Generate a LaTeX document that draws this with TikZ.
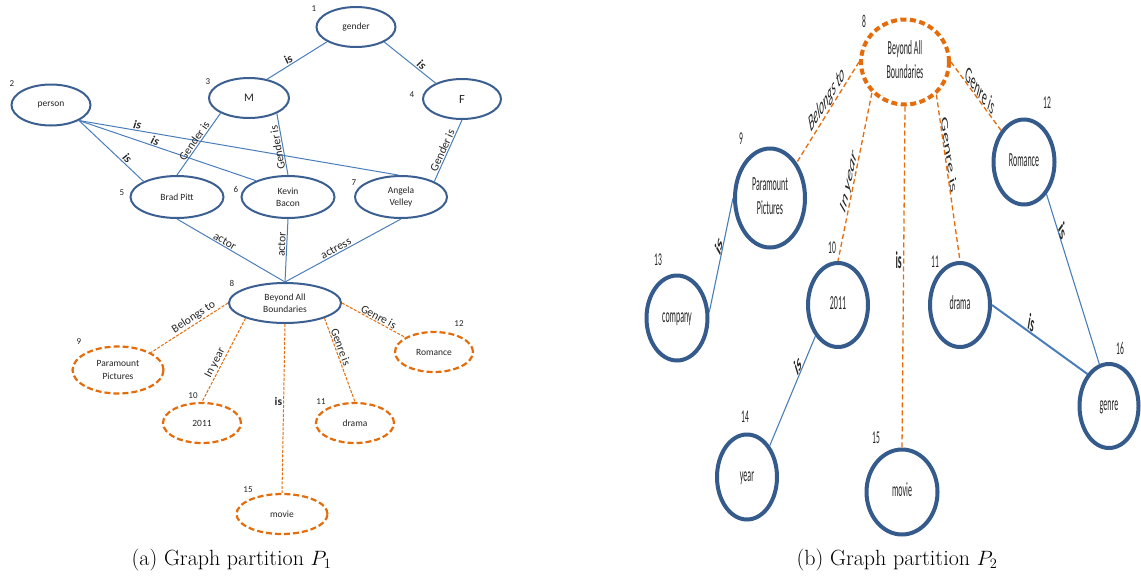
\documentclass[tikz,border=0pt]{standalone}
\usepackage{fontspec}
\usepackage{graphicx}
\usetikzlibrary{shapes.geometric}
\newfontfamily\carlito{Carlito}
\definecolor{nodeblue}{HTML}{3B5F91}
\definecolor{rblue}{HTML}{355A8C}
\definecolor{edgeblue}{HTML}{4A7EBB}
\definecolor{orng}{HTML}{E46C0A}
\definecolor{txt}{HTML}{262626}
% condensed two-line text for the right-hand partition
\newcommand\sq[1]{\scalebox{0.4}[1]{\begin{tabular}{@{}c@{}}#1\end{tabular}}}
\tikzset{
  lnode/.style={ellipse, draw=nodeblue, line width=2pt, inner sep=0pt, text=txt,
    align=center, font=\carlito\fontsize{9.5}{12.3}\selectfont},
  lorange/.style={lnode, draw=orng, line width=2.2pt, dash pattern=on 6pt off 3pt},
  rnode/.style={ellipse, draw=rblue, line width=4pt, inner sep=0pt, text=txt,
    font=\carlito\fontsize{20}{24}\selectfont},
  rorange/.style={rnode, draw=orng, dash pattern=on 6pt off 3.5pt},
  lnum/.style={inner sep=0pt, text=txt, font=\carlito\fontsize{9}{10}\selectfont},
  rnum/.style={inner sep=0pt, text=txt, xscale=0.42, font=\carlito\fontsize{18}{20}\selectfont},
  ledge/.style={draw=edgeblue, line width=1pt},
  lodash/.style={draw=orng, line width=1pt, dash pattern=on 3pt off 1.5pt},
  redge/.style={draw=edgeblue, line width=1.1pt},
  rodash/.style={draw=orng, line width=1.3pt, dash pattern=on 5pt off 3pt},
  lfont/.style={inner sep=1pt, text=txt, font=\carlito\fontsize{11.5}{13}\selectfont},
  llab/.style={lfont, sloped, above},
  lis/.style={llab, font=\carlito\bfseries\itshape\fontsize{12}{13}\selectfont},
  lbold/.style={lfont, font=\carlito\bfseries\fontsize{11.5}{13}\selectfont},
  rlab/.style={inner sep=1pt, text=txt, anchor=south, xscale=0.4,
    font=\carlito\itshape\fontsize{24}{26}\selectfont},
  ris/.style={rlab, font=\carlito\bfseries\itshape\fontsize{24}{26}\selectfont},
  rbold/.style={inner sep=4pt, text=txt, xscale=0.4, font=\carlito\bfseries\fontsize{24}{26}\selectfont},
  capt/.style={inner sep=0pt, anchor=base, font=\fontsize{22}{26}\selectfont},
}
\begin{document}
\begin{tikzpicture}[x=1pt, y=-1pt]
\fill[white] (0,0) rectangle (1141,579);
\useasboundingbox (0,0) rectangle (1141,579);

% ---------- partition P1 ----------
\node[lnode, minimum width=79pt, minimum height=40pt] (gender) at (356,27) {gender};
\node[lnode, minimum width=80pt, minimum height=40pt, font=\carlito\fontsize{11.5}{13}\selectfont] (M) at (249,98) {M};
\node[lnode, minimum width=78pt, minimum height=40pt, font=\carlito\fontsize{12.5}{14}\selectfont] (F) at (462,99) {F};
\node[lnode, minimum width=79pt, minimum height=41pt] (person) at (51,105) {person};
\node[lnode, minimum width=93pt, minimum height=42pt] (brad) at (177,197) {Brad Pitt};
\node[lnode, minimum width=93pt, minimum height=42pt] (kevin) at (288,197) {Kevin\\Bacon};
\node[lnode, minimum width=92pt, minimum height=42pt] (angela) at (401,197) {Angela\\Velley};
\node[lnode, minimum width=112pt, minimum height=40pt] (babL) at (285,303) {Beyond All\\Boundaries};
\node[lorange, minimum width=91pt, minimum height=47pt] (paraL) at (118,370) {Paramount\\Pictures};
\node[lorange, minimum width=78pt, minimum height=40pt] (yrL) at (202,423) {2011};
\node[lorange, minimum width=78pt, minimum height=40pt] (drL) at (355,423) {drama};
\node[lorange, minimum width=78pt, minimum height=40pt] (roL) at (434,352) {Romance};
\node[lorange, minimum width=91pt, minimum height=40pt] (moL) at (282,514) {movie};

\node[lnum] (n1) at (314,9) {1};
\node[lnum] (n2) at (12,84) {2};
\node[lnum] (n3) at (208,82) {3};
\node[lnum] (n4) at (412,95) {4};
\node[lnum] (n5) at (122,193) {5};
\node[lnum] (n6) at (236,189) {6};
\node[lnum] (n7) at (354,183) {7};
\node[lnum] (n8) at (232,283) {8};
\node[lnum] (n9) at (79,342) {9};
\node[lnum] (n10) at (193,396) {10};
\node[lnum] (n11) at (321,402) {11};
\node[lnum] (n12) at (459,324) {12};
\node[lnum] (n15) at (248,490) {15};

\draw[ledge] (gender.207) -- node[lis, pos=0.6] (la1) {is} (M.46);
\draw[ledge] (gender.-28) -- node[lis, pos=0.66] (la2) {is} (F.149);
\draw[ledge] (person.-29) -- node[lis, pos=0.69] (la3) {is} (brad.155);
\draw[ledge] (person.-29) -- node[lis, pos=0.42] (la4) {is} (kevin.153);
\draw[ledge] (person.-29) -- node[lis, pos=0.18] (la5) {is} (angela.97);
\draw[ledge] (M.208) -- node[llab, pos=0.5] (la6) {Gender is} (brad.north);
\draw[ledge] (kevin.north) -- node[llab, allow upside down, pos=0.46] (la7) {Gender is} (M.-29);
\draw[ledge] (F.south) -- node[llab, pos=0.53] (la8) {Gender is} (angela.25);
\draw[ledge] (brad.south) -- node[llab, pos=0.42] (la9) {actor} (babL.north);
\draw[ledge] (kevin.south) -- node[llab, pos=0.41] (la10) {actor} (babL.north);
\draw[ledge] (angela.south) -- node[llab, pos=0.54] (la11) {actress} (babL.north);

\draw[lodash] (babL.west) -- node[llab, pos=0.4] (la12) {Belongs to} (paraL.28.5);
\draw[lodash] (babL.201) -- node[llab, pos=0.57] (la13) {In year} (yrL.north);
\draw[lodash] (babL.south) -- node[lbold, pos=0.46, left] (la14) {is} (moL.north);
\draw[lodash] (babL.-21) -- node[llab, pos=0.37] (la15) {Genre is} (drL.north);
\draw[lodash] (babL.east) -- node[llab, pos=0.54] (la16) {Genre is} (roL.153);

% ---------- partition P2 ----------
\node[rorange, minimum width=88pt, minimum height=85pt] (babR) at (905,62) {\sq{Beyond All\\Boundaries}};
\node[rnode, minimum width=70pt, minimum height=99pt] (paraR) at (770,198) {\sq{Paramount\\Pictures}};
\node[rnode, minimum width=61pt, minimum height=85pt] (roR) at (1024,162) {\sq{Romance}};
\node[rnode, minimum width=61pt, minimum height=85pt] (coR) at (677,318) {\sq{company}};
\node[rnode, minimum width=60pt, minimum height=84pt] (yrR) at (838,305) {\sq{2011}};
\node[rnode, minimum width=60pt, minimum height=84pt] (drR) at (960,305) {\sq{drama}};
\node[rnode, minimum width=59pt, minimum height=84pt] (geR) at (1109,406) {\sq{genre}};
\node[rnode, minimum width=60pt, minimum height=85pt] (yeR) at (747,477) {\sq{year}};
\node[rnode, minimum width=71pt, minimum height=85pt] (moR) at (902,492) {\sq{movie}};

\node[rnum] (m8) at (864,21) {8};
\node[rnum] (m9) at (741,139) {9};
\node[rnum] (m10) at (832,248) {10};
\node[rnum] (m11) at (935,262) {11};
\node[rnum] (m12) at (1047,103) {12};
\node[rnum] (m13) at (658,260) {13};
\node[rnum] (m14) at (745,417) {14};
\node[rnum] (m15) at (876,438) {15};
\node[rnum] (m16) at (1120,348) {16};

\draw[rodash] (babR.west) -- node[rlab, pos=0.48, rotate=32.7] (lb1) {Belongs to} (paraR.53);
\draw[rodash] (babR.223) -- node[rlab, pos=0.56, rotate=63.3] (lb2) {In year} (yrR.north);
\draw[rodash] (babR.south) -- node[rbold, pos=0.45, anchor=east] (lb3) {is} (moR.north);
\draw[rodash] (babR.-46) -- node[rlab, pos=0.38, rotate=-71] (lb4) {Genre is} (drR.north);
\draw[rodash] (babR.east) -- node[rlab, pos=0.54, rotate=-28.2] (lb5) {Genre is} (roR.126);
\draw[redge] (paraR.west) -- node[ris, pos=0.46, rotate=62.2] (lb6) {is} (coR.10);
\draw[redge] (yrR.234) -- node[ris, pos=0.33, rotate=45] (lb7) {is} (yeR.54);
\draw[redge, line width=2pt] (drR.east) -- node[ris, pos=0.4, rotate=-15.9] (lb8) {is} (geR.124);
\draw[redge] (roR.-55.6) -- node[ris, pos=0.25, rotate=-52.3] (lb9) {is} (geR.103);

% ---------- captions ----------
\node[capt] (capa) at (231.5,565) {(a) Graph partition $P_1$};
\node[capt] (capb) at (897,565) {(b) Graph partition $P_2$};
\end{tikzpicture}
\end{document}
